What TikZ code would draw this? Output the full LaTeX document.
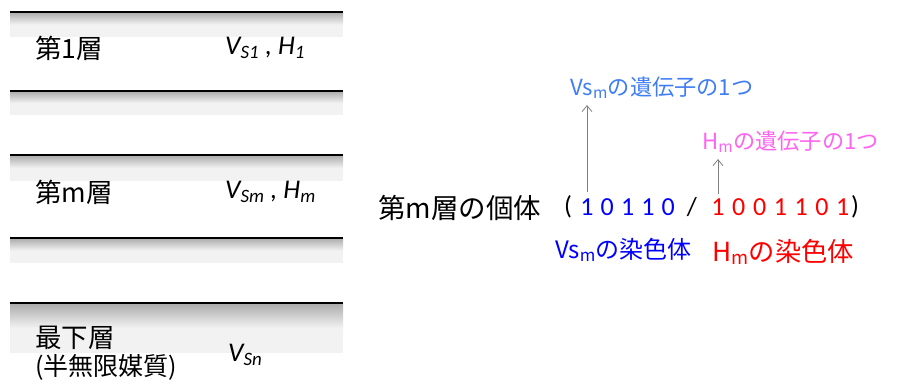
\documentclass[tikz,border=0pt]{standalone}
\usepackage{fontspec}
\setmainfont{Carlito}
\newfontfamily\jp{Noto Sans CJK JP}
\usetikzlibrary{arrows.meta}
\definecolor{band}{RGB}{242,242,242}
\definecolor{genev}{RGB}{64,125,245}
\definecolor{geneh}{RGB}{255,100,240}
\tikzset{
  lbl/.style={anchor=west, inner sep=0pt},
  bit/.style={inner sep=0pt, font=\fontsize{26}{30}\selectfont},
  up/.style={-{Straight Barb[length=6pt,width=10pt]}, gray, line width=0.8pt},
}
\begin{document}
\begin{tikzpicture}[x=1pt,y=-1pt]
\useasboundingbox (0,0) rectangle (897,383);
% interfaces: y of the line / depth of the grey band
\foreach \y/\h in {12/25, 91/24, 155/26, 238/25, 303/50}
{
	\shade[top color=black!33, bottom color=band] (10,\y) rectangle (343,\y+\h/2);
	\fill[band] (10,\y+\h/2) rectangle (343,\y+\h);
	\draw[line width=2.5pt] (10,\y) -- (343,\y);
}
% layer names and parameters
\begin{scope}[font=\fontsize{26.5}{30}\selectfont]
\node[lbl] (l1) at (35,48) {\jp 第1層};
\node[lbl] (lm) at (35,192) {\jp 第m層};
\node[lbl] (ln) at (35,338) {\jp 最下層};
\node[lbl, font=\fontsize{25}{28}\selectfont] (ln2) at (35,367) {\jp (半無限媒質)};
\end{scope}
\begin{scope}[font=\fontsize{27}{30}\selectfont\itshape]
\node[lbl] (p1) at (225,48) {V\textsubscript{S1} , H\textsubscript{1}};
\node[lbl] (pm) at (225,192) {V\textsubscript{Sm} , H\textsubscript{m}};
\node[lbl] (pn) at (228,355) {V\textsubscript{Sn}};
\end{scope}
% individual of layer m
\node[lbl, font=\fontsize{27.5}{30}\selectfont] (ind) at (378,208) {\jp 第m層の個体};
\node[bit] (lp) at (568,207) {(};
\foreach \d [count=\i] in {1,0,1,1,0}
	\node[bit, text=blue] (b\i) at (587+20.3*\i-20.3,207) {\d};
\node[bit] (sl) at (692,207) {/};
\foreach \d [count=\i] in {1,0,0,1,1,0,1}
	\node[bit, text=red] (r\i) at (718+20.8*\i-20.8,207) {\d};
\node[bit] (rp) at (855,207) {)};
% genes
\node[lbl, text=genev, font=\fontsize{22.2}{26}\selectfont] (gv) at (570,88) {\jp Vs\textsubscript{m}の遺伝子の1つ};
\node[lbl, text=geneh, font=\fontsize{22.2}{26}\selectfont] (gh) at (702,142) {\jp H\textsubscript{m}の遺伝子の1つ};
\draw[up, shorten <=6pt, shorten >=6pt] (b1.north) -- (b1.north |- gv.south);
\draw[up, shorten <=4pt, shorten >=6pt] (r1.north) -- (r1.north |- gh.south);
% chromosomes
\node[lbl, text=blue, font=\fontsize{24}{28}\selectfont] (cv) at (555,250) {\jp Vs\textsubscript{m}の染色体};
\node[lbl, text=red, font=\fontsize{26.3}{28}\selectfont] (ch) at (712,252) {\jp H\textsubscript{m}の染色体};
\end{tikzpicture}
\end{document}
